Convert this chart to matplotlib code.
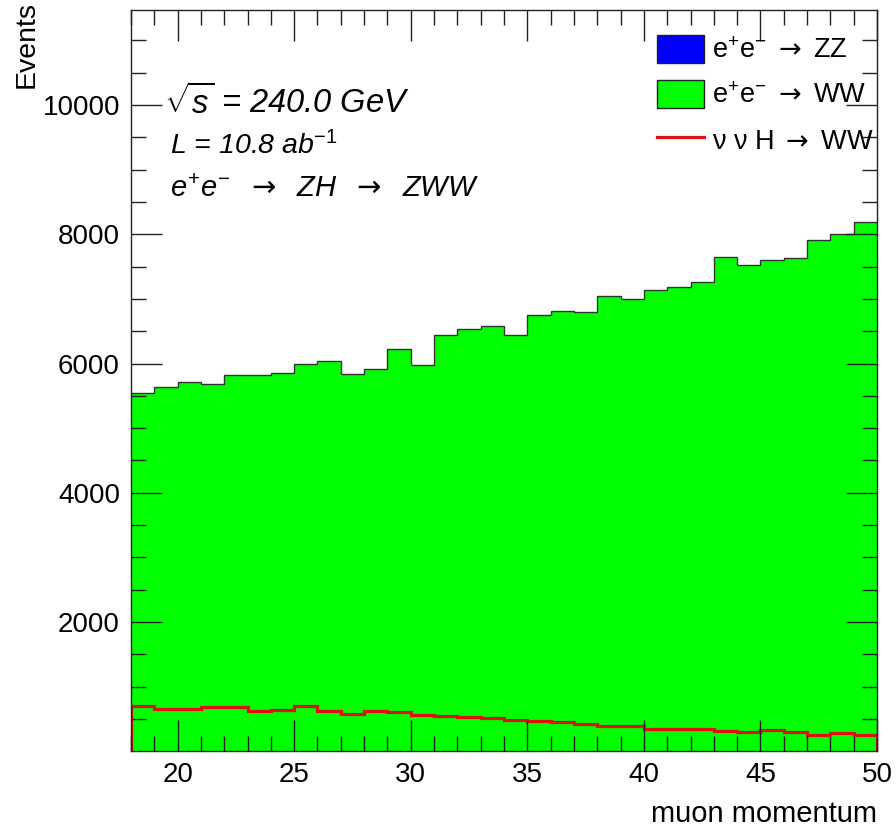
import numpy as np
import matplotlib
matplotlib.use("Agg")
from matplotlib import pyplot as plt
from matplotlib.patches import Patch
from matplotlib.lines import Line2D

plt.rcParams['font.family'] = ['Liberation Sans', 'DejaVu Sans']
plt.rcParams['mathtext.fontset'] = 'custom'
plt.rcParams['mathtext.rm'] = 'Liberation Sans'
plt.rcParams['mathtext.it'] = 'Liberation Sans:italic'
plt.rcParams['mathtext.sf'] = 'DejaVu Sans'

# histogram binning (muon momentum, 1 GeV bins)
bin_edges = np.arange(18, 51, 1)

# e+e- -> ZZ (not visible in this range)
zz_counts = [0] * 32
# e+e- -> WW
ww_counts = [5550, 5630, 5710, 5690, 5815, 5815, 5850, 6000, 6035, 5835,
             5910, 6225, 5985, 6445, 6540, 6580, 6445, 6745, 6815, 6800,
             7040, 7000, 7135, 7180, 7265, 7645, 7520, 7595, 7630, 7915,
             8005, 8185]
# nu nu H -> WW (signal, line)
nnh_counts = [700, 660, 660, 685, 685, 625, 640, 705, 625, 578,
              622, 603, 562, 550, 525, 515, 490, 472, 452, 422,
              396, 396, 350, 350, 340, 318, 295, 328, 295, 253,
              278, 253]

arrow = r'$\mathsf{\rightarrow}$'
legend_labels = [r'$\mathregular{e^{+}e^{-}}$ ' + arrow + ' ZZ',
                 r'$\mathregular{e^{+}e^{-}}$ ' + arrow + ' WW',
                 'ν ν H ' + arrow + ' WW']

fig = plt.figure(figsize=(8.96, 8.27), dpi=100)
ax = fig.add_axes([0.1462, 0.0915, 0.9788 - 0.1462, 0.9879 - 0.0915])

zz = np.array(zz_counts, dtype=float)
ww = np.array(ww_counts, dtype=float)
nnh = np.array(nnh_counts, dtype=float)

# stacked backgrounds
ax.stairs(zz + ww, bin_edges, fill=True, color='#00ff00')
ax.stairs(zz + ww, bin_edges, color='#333333', lw=1.0, baseline=None)
ax.stairs(zz, bin_edges, fill=True, color='#0000ff')
# signal overlay
red = '#e01010'
ax.stairs(nnh, bin_edges, color=red, lw=2.3, baseline=0)

ax.set_xlim(18, 50)
ax.set_ylim(0, 11470)

ax.set_xticks([20, 25, 30, 35, 40, 45, 50])
ax.set_xticks(np.arange(18, 51, 1), minor=True)
ax.set_yticks([2000, 4000, 6000, 8000, 10000])
ax.set_yticks(np.arange(500, 11470, 500), minor=True)
ax.tick_params(which='both', direction='in', top=True, right=True,
               labelsize=20, width=1.0, color='#222222')
ax.tick_params(which='major', length=22, pad=8)
ax.tick_params(which='minor', length=11)
for sp in ax.spines.values():
    sp.set_linewidth(1.0)
    sp.set_color('#222222')

ax.set_xlabel('muon momentum', fontsize=21, loc='right', labelpad=8)
ax.set_ylabel('Events', fontsize=20.5, loc='top', labelpad=5)
ax.yaxis.set_label_coords(-0.122, 1.012)

txt_kw = dict(transform=fig.transFigure, style='italic', va='center')
fig.text(0.183, 0.876, r'$\sqrt{s}$ = 240.0 GeV', fontsize=23.5, **txt_kw)
fig.text(0.190, 0.824, r'L = 10.8 ab$^{-1}$', fontsize=20.5, **txt_kw)
fig.text(0.190, 0.771,
         r'$e^{+}e^{-}$  ' + arrow + '  ZH  ' + arrow + '  ZWW',
         fontsize=21, **txt_kw)

handles = [Patch(facecolor='#0000ff', edgecolor='#222222', lw=1.0),
           Patch(facecolor='#00ff00', edgecolor='#222222', lw=1.0),
           Line2D([0], [0], color=red, lw=2.3)]
fig.legend(handles, legend_labels, loc='upper left',
           bbox_to_anchor=(0.7333, 0.9577), frameon=False, fontsize=19.5,
           handlelength=1.74, handleheight=1.2, handletextpad=0.28,
           labelspacing=0.6, borderaxespad=0, borderpad=0)

fig.savefig('out.png', dpi=100)
